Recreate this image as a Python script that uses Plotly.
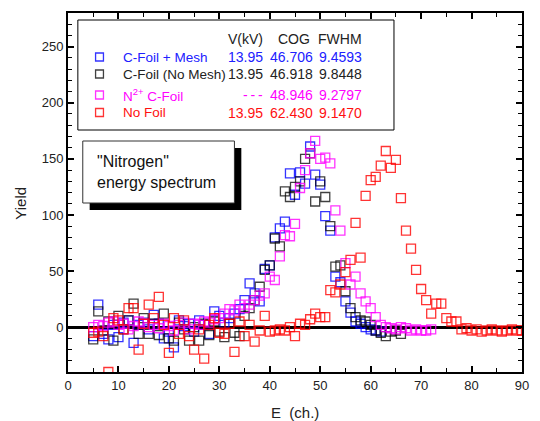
import plotly.graph_objects as go

# ---------------- data ----------------
blue_x = list(range(5, 63))
blue_y = [-8, 20, -6, -11, 2, -9, 4, 6, -14, 2, 4, -2, 11, 3, -10, -4, -18, 6, 1, 3,
          -4, 6, 2, -6, 14, 10, 4, 8, 12, 16, 24, 39, 30, 23, 52, 55, 80, 88, 94, 137,
          118, 138, 128, 161, 136, 127, 99, 86, 45, 40, 23, 13, 5, 3, 0, -2, -3, -4]

black_x = list(range(5, 67))
black_y = [-11, 14, -3, 5, -12, 10, -2, 6, 21, -6, 8, -6, 3, -7, 12, -10, -12, 4, -2, -12,
           0, -12, 3, -7, 5, -4, -9, 3, -5, -8, 10, 17, 24, 36, 51, 55, 79, 72, 121, 116,
           125, 130, 150, 155, 112, 130, 116, 90, 54, 55, 32, 17, 9, 6, 5, 2, -3, -5, -8, -4,
           -3, -6]

mag_x = list(range(5, 73))
mag_y = [0, 2, 1, 4, 5, 2, 3, -2, 1, 5, 3, 0, 2, -1, 3, 1, -3, 2, 4, -2,
         3, 2, 5, 4, 7, 8, 12, 16, 15, 20, 17, 20, 24, 28, 30, 45, 42, 63, 82, 81,
         92, 124, 140, 155, 166, 150, 151, 146, 104, 86, 57, 38, 45, 30, 23, 17, 9, 2, 0, -1,
         -2, 0, -1, -3, -2, -3, -3, -2]

red_x = list(range(5, 91))
red_y = [-5, -4, -8, -40, 8, 6, -2, 17, 17, -20, 3, 20, 8, 27, 2, -23, 8, -6, 6, -8,
         -20, -2, -28, 2, 8, -5, -6, 3, -22, 5, -8, 2, -13, -3, 10, -4, -3, -2, -3, 0,
         -8, 3, 2, 7, 12, 9, 9, 33, 31, 38, 49, 60, 93, 62, 117, 131, 134, 144, 157, 142,
         149, 115, 86, 70, 51, 34, 24, 12, 21, 21, 8, 5, 5, -2, -1, -3, -2, -4, -3, -2,
         -3, -4, -3, -2, -3, -3]

series_names = ["C-Foil + Mesh", "C-Foil (No Mesh)", "N<sup>2+</sup> C-Foil", "No Foil"]
series_colors = ["rgba(0,0,255,0.8)", "rgba(0,0,0,0.75)", "rgba(255,0,255,0.8)", "rgba(255,0,0,0.8)"]
text_colors = ["#2020FF", "#222222", "#FF00FF", "#FF1010"]
v_kv = ["13.95", "13.95", "-\u2009-\u2009-", "13.95"]
cog = ["46.706", "46.918", "48.946", "62.430"]
fwhm = ["9.4593", "9.8448", "9.2797", "9.1470"]

x_ticks = [0, 10, 20, 30, 40, 50, 60, 70, 80, 90]
y_ticks = [0, 50, 100, 150, 200, 250]

FONT = "Liberation Sans, Arial, sans-serif"

# ---------------- figure ----------------
W, H = 540, 421
L, R, T, B = 68, 11, 13, 49
pw, ph = W - L - R, H - T - B


def px(xp):
    return (xp - L) / pw


def py(yp):
    return (H - B - yp) / ph


fig = go.Figure()
all_x = [blue_x, black_x, mag_x, red_x]
all_y = [blue_y, black_y, mag_y, red_y]
for xs, ys, c, n in zip(all_x, all_y, series_colors, series_names):
    fig.add_trace(go.Scatter(
        x=xs, y=ys, mode="markers", name=n,
        marker=dict(symbol="square-open", size=9, color=c, line=dict(width=1.3, color=c)),
        showlegend=False))

axis_common = dict(
    showline=True, linewidth=2, linecolor="black", mirror="ticks",
    ticks="inside", ticklen=6, tickwidth=1.5, tickcolor="black",
    showgrid=False,
    tickfont=dict(family=FONT, size=13, color="#222"),
)

fig.update_xaxes(range=[0, 90], tickvals=x_ticks, zeroline=False,
                 minor=dict(dtick=5, ticks="inside", ticklen=4, tickwidth=1.2, tickcolor="black"),
                 **axis_common)
fig.update_yaxes(range=[-40, 280], tickvals=y_ticks, zeroline=True, zerolinecolor="black",
                 zerolinewidth=2.5,
                 minor=dict(dtick=10, ticks="inside", ticklen=4, tickwidth=1.2, tickcolor="black"),
                 **axis_common)

shapes = []
annotations = []

# legend/table box
shapes.append(dict(type="rect", xref="paper", yref="paper", x0=px(78), x1=px(399),
                   y0=py(130), y1=py(20), line=dict(color="black", width=1), fillcolor="white",
                   layer="above"))
hdr_y = 39
annotations += [
    dict(x=px(268), y=py(hdr_y), text="V(kV)", xanchor="right"),
    dict(x=px(297.5), y=py(hdr_y), text="COG", xanchor="center"),
    dict(x=px(369), y=py(hdr_y), text="FWHM", xanchor="right"),
]
for a in annotations:
    a.update(xref="paper", yref="paper", yanchor="middle", showarrow=False,
             font=dict(family=FONT, size=14, color="#222"))

row_y = [57, 74, 95, 112.5]
for i in range(4):
    yy = row_y[i]
    c = text_colors[i]
    shapes.append(dict(type="rect", xref="paper", yref="paper", x0=px(96), x1=px(104),
                       y0=py(yy + 4), y1=py(yy - 4), line=dict(color=series_colors[i], width=1.3),
                       layer="above"))
    for xx, txt, anc, fs in [(122, series_names[i], "left", 13.5), (268, v_kv[i], "right", 14),
                             (319, cog[i], "right", 14), (369, fwhm[i], "right", 14)]:
        annotations.append(dict(x=px(xx), y=py(yy), text=txt, xanchor=anc, yanchor="middle",
                                xref="paper", yref="paper", showarrow=False,
                                font=dict(family=FONT, size=fs, color=c)))

# text box with shadow
shapes.append(dict(type="rect", xref="paper", yref="paper", x0=px(90), x1=px(244),
                   y0=py(210), y1=py(148), line=dict(color="black", width=0), fillcolor="black",
                   layer="above"))
shapes.append(dict(type="rect", xref="paper", yref="paper", x0=px(83), x1=px(237),
                   y0=py(203), y1=py(141), line=dict(color="#333", width=1), fillcolor="white",
                   layer="above"))
annotations.append(dict(x=px(95), y=py(162), text='"Nitrogen"', xanchor="left", yanchor="middle",
                        xref="paper", yref="paper", showarrow=False,
                        font=dict(family=FONT, size=16, color="#111")))
annotations.append(dict(x=px(95), y=py(183), text="energy spectrum", xanchor="left", yanchor="middle",
                        xref="paper", yref="paper", showarrow=False,
                        font=dict(family=FONT, size=16, color="#111")))

# axis titles
annotations.append(dict(x=px(19), y=py(203), text="Yield", textangle=-90, xanchor="center",
                        yanchor="middle", xref="paper", yref="paper", showarrow=False,
                        font=dict(family=FONT, size=15, color="#222")))
annotations.append(dict(x=px(298), y=py(412), text="E\u00a0\u00a0(ch.)", xanchor="center",
                        yanchor="middle", xref="paper", yref="paper", showarrow=False,
                        font=dict(family=FONT, size=15, color="#222")))

fig.update_layout(
    width=W, height=H,
    margin=dict(l=L, r=R, t=T, b=B),
    paper_bgcolor="white", plot_bgcolor="white",
    shapes=shapes, annotations=annotations,
    showlegend=False,
)

fig.write_html("out.html", config={"displayModeBar": False},
               post_script="document.body.style.margin='0';document.body.style.overflow='hidden';")
